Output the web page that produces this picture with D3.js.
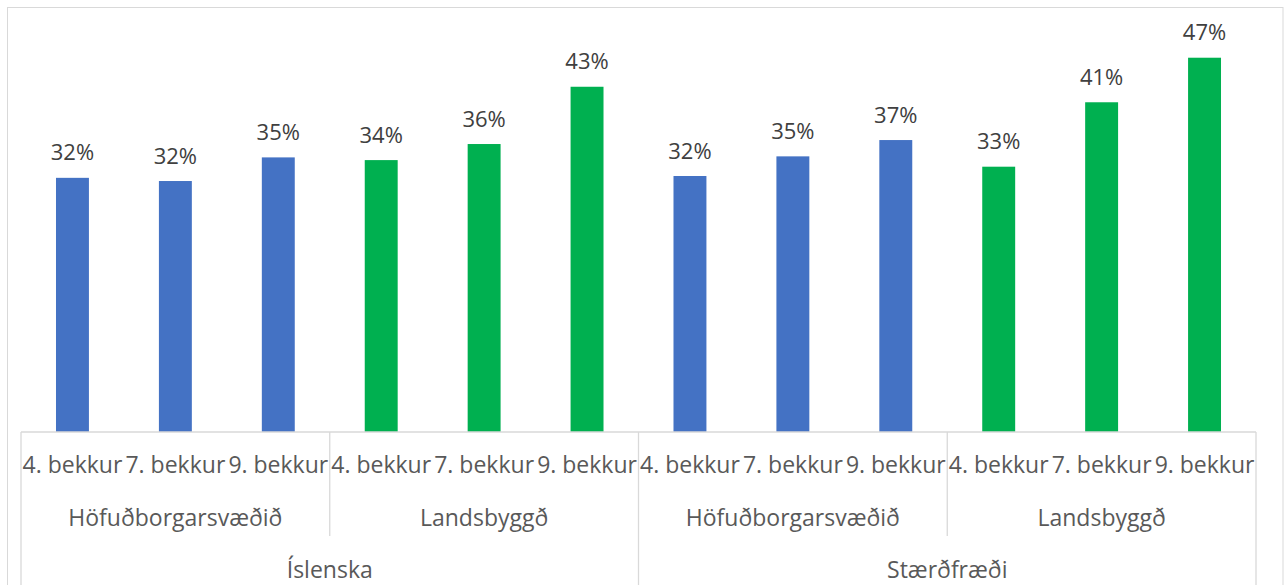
<!DOCTYPE html>
<html>
<head>
<meta charset="utf-8">
<script src="https://cdn.jsdelivr.net/npm/d3@7"></script>
<style>
  html, body { margin: 0; padding: 0; background: #fff; }
  svg { display: block; }
  text { font-family: "Open Sans", "Noto Sans", sans-serif; }
</style>
</head>
<body>
<svg id="chart" width="1285" height="585"></svg>
<script>
// ---- data ----
const subjects = ["Íslenska", "Stærðfræði"];
const regions = ["Höfuðborgarsvæðið", "Landsbyggð"];
const grades = ["4. bekkur", "7. bekkur", "9. bekkur"];
const islenskaHofud = [0.3195, 0.3155, 0.3452];
const islenskaLands = [0.3418, 0.3620, 0.4340];
const staerdHofud = [0.3218, 0.3465, 0.3670];
const staerdLands = [0.3335, 0.4145, 0.4705];
const regionColors = ["#4472C4", "#00B050"];

(function () {
const seriesBySubject = [[islenskaHofud, islenskaLands], [staerdHofud, staerdLands]];
const rows = [];
subjects.forEach((s, si) => regions.forEach((r, ri) => grades.forEach((g, gi) => {
  rows.push({ subject: s, region: r, grade: g, key: s + "|" + r + "|" + g,
              groupKey: s + "|" + r, value: seriesBySubject[si][ri][gi], ri });
})));

// ---- layout ----
const svg = d3.select("#chart");
const plotLeft = 21, plotRight = 1256, axisY = 432, plotTop = 34.25;

svg.append("rect").attr("x", 7.5).attr("y", 7.5).attr("width", 1275.5).attr("height", 620)
  .attr("fill", "#fff").attr("stroke", "#d9d9d9").attr("stroke-width", 1);

const x = d3.scaleBand().domain(rows.map(d => d.key)).range([plotLeft, plotRight])
  .paddingInner(0.68).paddingOuter(0.34);
const xSlot = d3.scaleBand().domain(rows.map(d => d.key)).range([plotLeft, plotRight]);
const groupKeys = Array.from(new Set(rows.map(d => d.groupKey)));
const xGroup = d3.scaleBand().domain(groupKeys).range([plotLeft, plotRight]);
const xSubject = d3.scaleBand().domain(subjects).range([plotLeft, plotRight]);
const y = d3.scaleLinear().domain([0, 0.5]).range([axisY, plotTop]);
const fmt = d3.format(".0%");

// bars
svg.append("g").selectAll("rect").data(rows).join("rect")
  .attr("x", d => x(d.key)).attr("width", x.bandwidth())
  .attr("y", d => y(d.value)).attr("height", d => y(0) - y(d.value))
  .attr("fill", d => regionColors[d.ri]);

// data labels
svg.append("g").selectAll("text").data(rows).join("text")
  .attr("x", d => x(d.key) + x.bandwidth() / 2)
  .attr("y", d => y(d.value) - 17.5)
  .attr("text-anchor", "middle").attr("font-size", 22).attr("fill", "#404040")
  .text(d => fmt(d.value));

// axis lines
const axisCol = "#d9d9d9";
const ax = svg.append("g").attr("stroke", axisCol).attr("stroke-width", 1.3);
ax.append("line").attr("x1", plotLeft).attr("x2", plotRight).attr("y1", axisY).attr("y2", axisY);
const groupEdges = groupKeys.map(k => xGroup(k)).concat([plotRight]);
ax.selectAll("line.g").data(groupEdges).join("line").attr("class", "g")
  .attr("x1", d => d).attr("x2", d => d).attr("y1", axisY).attr("y2", 536);
const subjEdges = subjects.map(s => xSubject(s)).concat([plotRight]);
ax.selectAll("line.s").data(subjEdges).join("line").attr("class", "s")
  .attr("x1", d => d).attr("x2", d => d).attr("y1", 536).attr("y2", 600);

// category labels
const labCol = "#595959", labSize = 23;
svg.append("g").selectAll("text").data(rows).join("text")
  .attr("x", d => xSlot(d.key) + xSlot.bandwidth() / 2).attr("y", 473)
  .attr("text-anchor", "middle").attr("font-size", labSize).attr("fill", labCol)
  .text(d => d.grade);
svg.append("g").selectAll("text").data(groupKeys).join("text")
  .attr("x", d => xGroup(d) + xGroup.bandwidth() / 2).attr("y", 526)
  .attr("text-anchor", "middle").attr("font-size", labSize).attr("fill", labCol)
  .text(d => d.split("|")[1]);
svg.append("g").selectAll("text").data(subjects).join("text")
  .attr("x", d => xSubject(d) + xSubject.bandwidth() / 2).attr("y", 578)
  .attr("text-anchor", "middle").attr("font-size", labSize).attr("fill", labCol)
  .text(d => d);
})();
</script>
</body>
</html>
